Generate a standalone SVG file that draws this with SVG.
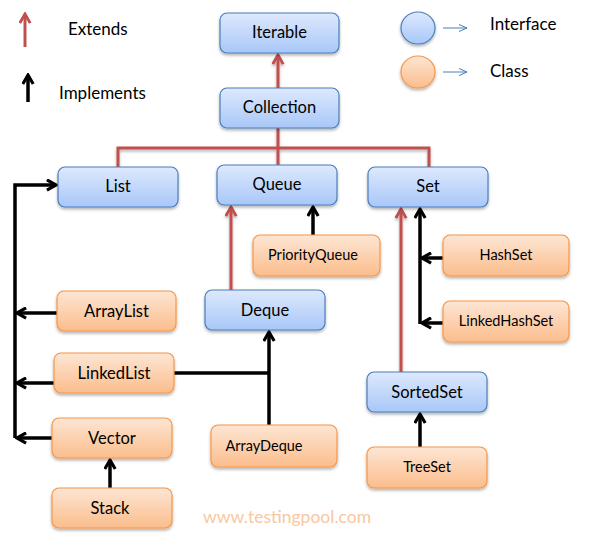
<svg xmlns="http://www.w3.org/2000/svg" width="592" height="541" viewBox="0 0 592 541">
<style>
.txt{font-family:Lato,"Open Sans","Liberation Sans",sans-serif;font-size:16.5px;fill:#000;text-anchor:middle}
.sm{font-size:14.5px}
.leg{font-family:Lato,"Open Sans","Liberation Sans",sans-serif;font-size:17px;fill:#000}
.ifc{fill:url(#gBlue);stroke:#4a7ebb;stroke-width:1.2}
.cls{fill:url(#gOrange);stroke:#f79646;stroke-width:1.2}
.ext{fill:none;stroke:#c0504d;stroke-width:3}
.imp{fill:none;stroke:#000;stroke-width:3.5}
</style>
<defs>
<linearGradient id="gBlue" x1="0" y1="0" x2="0" y2="1"><stop offset="0" stop-color="#dde9fd"/><stop offset="1" stop-color="#a8c7f8"/></linearGradient>
<linearGradient id="gOrange" x1="0" y1="0" x2="0" y2="1"><stop offset="0" stop-color="#fde6d4"/><stop offset="1" stop-color="#fbbd8c"/></linearGradient>
<filter id="sh" x="-20%" y="-20%" width="140%" height="150%"><feDropShadow dx="0" dy="2" stdDeviation="1.5" flood-color="#000" flood-opacity="0.3"/></filter>
<marker id="aR" viewBox="0 0 10 10" refX="8.5" refY="5" markerWidth="13" markerHeight="13" markerUnits="userSpaceOnUse" orient="auto"><path d="M1.5,1 L8.5,5 L1.5,9" fill="none" stroke="#c0504d" stroke-width="2.2"/></marker>
<marker id="aB" viewBox="0 0 10 10" refX="8.5" refY="5" markerWidth="13" markerHeight="13" markerUnits="userSpaceOnUse" orient="auto"><path d="M1.5,1 L8.5,5 L1.5,9" fill="none" stroke="#000" stroke-width="2.4"/></marker>
<marker id="aL" viewBox="0 0 10 10" refX="9" refY="5" markerWidth="10" markerHeight="10" markerUnits="userSpaceOnUse" orient="auto"><path d="M1,1.5 L9,5 L1,8.5" fill="none" stroke="#4a7ebb" stroke-width="1"/></marker>
</defs>
<rect width="592" height="541" fill="#fff"/>

<g id="legend">
<line x1="25" y1="47" x2="25" y2="14" class="ext" marker-end="url(#aR)"/>
<text x="68" y="35" class="leg">Extends</text>
<line x1="28" y1="102" x2="28" y2="75" class="imp" marker-end="url(#aB)"/>
<text x="59" y="99" class="leg">Implements</text>
<ellipse cx="418" cy="28" rx="17" ry="16" class="ifc" filter="url(#sh)"/>
<line x1="443" y1="28" x2="467" y2="28" stroke="#4a7ebb" stroke-width="1" marker-end="url(#aL)"/>
<text x="490" y="30" class="leg">Interface</text>
<ellipse cx="418" cy="72" rx="17" ry="16" class="cls" filter="url(#sh)"/>
<line x1="443" y1="72" x2="467" y2="72" stroke="#4a7ebb" stroke-width="1" marker-end="url(#aL)"/>
<text x="490" y="77" class="leg">Class</text>
</g>

<g id="connectors">
<g filter="url(#sh)">
<line x1="278" y1="88" x2="278" y2="55" class="ext" marker-end="url(#aR)"/>
<polyline points="118,167 118,148 429,148 429,167" class="ext"/>
<line x1="278" y1="128" x2="278" y2="165" class="ext"/>
<line x1="231" y1="290" x2="231" y2="207" class="ext" marker-end="url(#aR)"/>
<line x1="401" y1="372" x2="401" y2="209" class="ext" marker-end="url(#aR)"/>
</g>
<line x1="313" y1="235" x2="313" y2="207" class="imp" marker-end="url(#aB)"/>
<polyline points="15,438 15,185 56,185" class="imp" marker-end="url(#aB)"/>
<line x1="57" y1="313" x2="17" y2="313" class="imp" marker-end="url(#aB)"/>
<line x1="54" y1="383" x2="17" y2="383" class="imp" marker-end="url(#aB)"/>
<line x1="52" y1="438" x2="17" y2="438" class="imp" marker-end="url(#aB)"/>
<line x1="110" y1="488" x2="110" y2="460" class="imp" marker-end="url(#aB)"/>
<line x1="174" y1="373" x2="269" y2="373" class="imp"/>
<line x1="269" y1="425" x2="269" y2="332" class="imp" marker-end="url(#aB)"/>
<polyline points="420,324 420,209" class="imp" marker-end="url(#aB)"/>
<line x1="443" y1="258" x2="422" y2="258" class="imp" marker-end="url(#aB)"/>
<line x1="443" y1="323" x2="422" y2="323" class="imp" marker-end="url(#aB)"/>
<line x1="420" y1="447" x2="420" y2="414" class="imp" marker-end="url(#aB)"/>
</g>

<g id="Iterable"><rect x="220" y="13" width="119" height="40" rx="7" class="ifc" filter="url(#sh)"/><text x="279.5" y="38" class="txt">Iterable</text></g>
<g id="Collection"><rect x="220" y="88" width="119" height="40" rx="7" class="ifc" filter="url(#sh)"/><text x="279.5" y="113" class="txt">Collection</text></g>
<g id="List"><rect x="58" y="167" width="120" height="40" rx="7" class="ifc" filter="url(#sh)"/><text x="118" y="192" class="txt">List</text></g>
<g id="Queue"><rect x="217" y="165" width="120" height="40" rx="7" class="ifc" filter="url(#sh)"/><text x="277" y="190" class="txt">Queue</text></g>
<g id="Set"><rect x="368" y="167" width="120" height="40" rx="7" class="ifc" filter="url(#sh)"/><text x="428" y="192" class="txt">Set</text></g>
<g id="Deque"><rect x="205" y="290" width="120" height="40" rx="7" class="ifc" filter="url(#sh)"/><text x="265" y="316" class="txt">Deque</text></g>
<g id="SortedSet"><rect x="367" y="372" width="120" height="40" rx="7" class="ifc" filter="url(#sh)"/><text x="427" y="398" class="txt">SortedSet</text></g>

<g id="PriorityQueue"><rect x="253" y="235" width="127" height="41" rx="7" class="cls" filter="url(#sh)"/><text x="313" y="260" class="txt sm">PriorityQueue</text></g>
<g id="HashSet"><rect x="443" y="235" width="126" height="41" rx="7" class="cls" filter="url(#sh)"/><text x="506" y="260" class="txt sm">HashSet</text></g>
<g id="LinkedHashSet"><rect x="443" y="301" width="126" height="41" rx="7" class="cls" filter="url(#sh)"/><text x="506" y="326" class="txt sm">LinkedHashSet</text></g>
<g id="ArrayList"><rect x="57" y="291" width="119" height="40" rx="7" class="cls" filter="url(#sh)"/><text x="116.5" y="317" class="txt">ArrayList</text></g>
<g id="LinkedList"><rect x="54" y="353" width="120" height="40" rx="7" class="cls" filter="url(#sh)"/><text x="114" y="379" class="txt">LinkedList</text></g>
<g id="Vector"><rect x="52" y="418" width="120" height="40" rx="7" class="cls" filter="url(#sh)"/><text x="112" y="444" class="txt">Vector</text></g>
<g id="Stack"><rect x="52" y="488" width="120" height="40" rx="7" class="cls" filter="url(#sh)"/><text x="110" y="514" class="txt">Stack</text></g>
<g id="ArrayDeque"><rect x="211" y="425" width="126" height="42" rx="7" class="cls" filter="url(#sh)"/><text x="264" y="450.5" class="txt sm">ArrayDeque</text></g>
<g id="TreeSet"><rect x="367" y="447" width="120" height="41" rx="7" class="cls" filter="url(#sh)"/><text x="427" y="472" class="txt sm">TreeSet</text></g>

<text x="287" y="523" class="txt" style="fill:#f9c7a0;font-size:17.5px">www.testingpool.com</text>
</svg>
